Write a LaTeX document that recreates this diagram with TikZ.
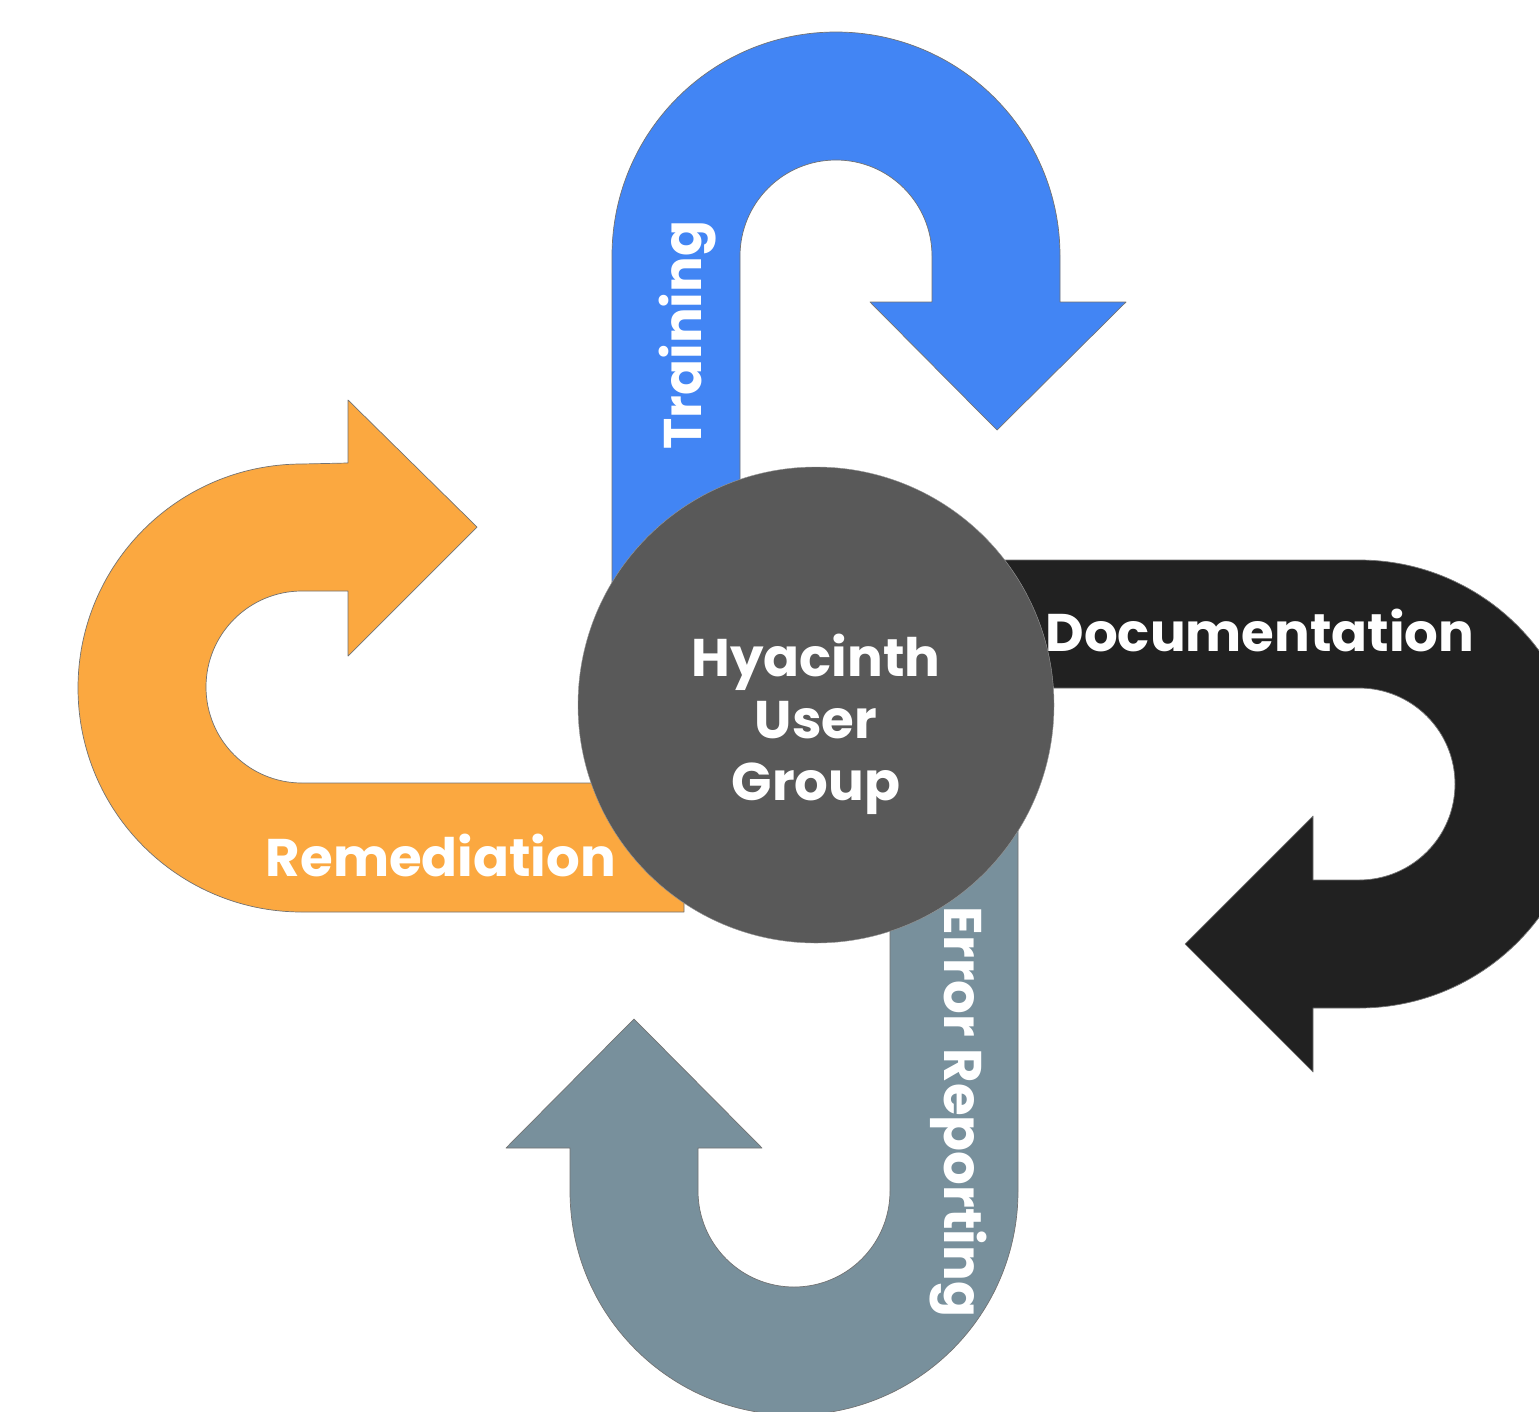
\documentclass[tikz,border=0pt]{standalone}
\usepackage{fontspec}
\newfontfamily\labelfont{Poppins}

\definecolor{trainblue}{HTML}{4285F4}
\definecolor{remorange}{HTML}{FBA840}
\definecolor{docblack}{HTML}{212121}
\definecolor{errslate}{HTML}{78909C}
\definecolor{hubgray}{HTML}{595959}

\def\ro{224}
\def\ri{96}

\begin{document}
\begin{tikzpicture}[x=1pt, y=-1pt, line join=round,
                    band/.style={draw=black!55, line width=0.7pt},
                    tag/.style={text=white, font=\labelfont\bfseries\fontsize{53}{62}\selectfont}
                   ]
\fill [white] (0,0) rectangle (1539,1411);
\useasboundingbox (0,0) rectangle (1539,1411);

% training, up and over
\fill [band, fill=trainblue] (612,700) -- (612,256) arc (180:360:\ro) -- (1060,302)
    -- (1126,302) -- (997,430) -- (870,302) -- (932,302) -- (932,256)
    arc (0:-180:\ri) -- (740,700) -- cycle;
% remediation, left and back
\fill [band, fill=remorange] (684,912) -- (302,912) arc (90:270:\ro) -- (348,463)
    -- (348,400) -- (477,527) -- (348,656) -- (348,591) -- (302,591)
    arc (270:90:\ri) -- (684,783) -- cycle;
% documentation, right and back
\fill [band, fill=docblack] (900,560) -- (1359,560) arc (-90:90:\ro) -- (1313,1008)
    -- (1313,1072) -- (1185,944) -- (1313,816) -- (1313,880) -- (1359,880)
    arc (90:-90:\ri) -- (900,688) -- cycle;
% error reporting, down and up
\fill [band, fill=errslate] (1018,800) -- (1018,1191) arc (0:180:\ro) -- (570,1148)
    -- (506,1148) -- (634,1019) -- (762,1148) -- (698,1148) -- (698,1191)
    arc (180:0:\ri) -- (890,800) -- cycle;

\node [circle, fill=hubgray, draw=black!40, minimum size=476pt, inner sep=0pt] (hub) at (816,705) {};
\node [tag, align=center] (hubtext) at ([yshift=-19pt]hub.center) {Hyacinth\\User\\Group};

\node [tag, rotate=90] (training) at (688,335) {Training};
\node [tag] (documentation) at (1260,630) {Documentation};
\node [tag] (remediation) at (441,855) {Remediation};
\node [tag, rotate=-90] (errors) at (958,1112) {Error Reporting};
\end{tikzpicture}
\end{document}
